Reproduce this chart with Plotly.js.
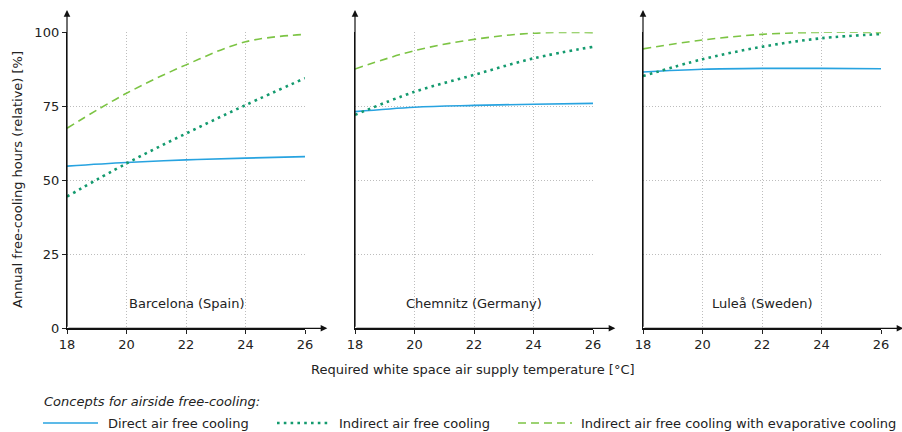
<!DOCTYPE html>
<html>
<head>
<meta charset="utf-8">
<script src="https://cdn.plot.ly/plotly-3.0.1.min.js"></script>
<style>
  html, body { margin: 0; padding: 0; background: #fff; }
  #chart { width: 902px; height: 432px; }
</style>
</head>
<body>
<div id="chart"></div>
<script>
// Supply air temperature steps [°C]
const temps = [18, 20, 22, 24, 26];
const tickTemps = [18, 20, 22, 24, 26];
const tickPct = [0, 25, 50, 75, 100];

// Annual free-cooling hours relative to the year [%]
const barcelonaDirect = [54.8, 56.0, 56.9, 57.5, 58.0];
const barcelonaIndirect = [44.5, 55.7, 65.8, 75.4, 84.5];
const barcelonaEvap = [67.6, 79.4, 89.0, 96.8, 99.3];

const chemnitzDirect = [73.2, 74.7, 75.3, 75.7, 76.0];
const chemnitzIndirect = [72.1, 79.9, 85.6, 91.2, 95.1];
const chemnitzEvap = [87.6, 93.8, 97.6, 99.7, 99.9];

const luleaDirect = [86.6, 87.5, 87.8, 87.8, 87.7];
const luleaIndirect = [85.2, 90.9, 95.1, 98.0, 99.4];
const luleaEvap = [94.4, 97.4, 99.3, 100.0, 99.9];

const sites = ['Barcelona (Spain)', 'Chemnitz (Germany)', 'Luleå (Sweden)'];
const concepts = [
  'Direct air free cooling',
  'Indirect air free cooling',
  'Indirect air free cooling with evaporative cooling'
];
const legendHeader = 'Concepts for airside free-cooling:';
const xTitle = 'Required white space air supply temperature [°C]';
const yTitle = 'Annual free-cooling hours (relative) [%]';

const series = [
  [barcelonaDirect, barcelonaIndirect, barcelonaEvap],
  [chemnitzDirect, chemnitzIndirect, chemnitzEvap],
  [luleaDirect, luleaIndirect, luleaEvap]
];

const FONT = 'DejaVu Sans, Verdana, sans-serif';
const W = 902, H = 432;
const styles = [
  { color: '#27a3e0', width: 1.6, dash: 'solid' },
  { color: '#139a6e', width: 2.6, dash: '2.6px,4.2px' },
  { color: '#7cc444', width: 1.6, dash: '8px,5px' }
];
const GRID = { gridcolor: '#bdbdbd', griddash: '1px,2px', gridwidth: 1 };

// pixel -> paper helpers
const px = v => v / W;
const py = v => (H - v) / H;

const panelLeft = [67, 355, 643];
const panelWidth = 238;
const yDomain = [py(328.3), py(32.3)];

const traces = [];
const layout = {
  width: W, height: H,
  margin: { l: 0, r: 0, t: 0, b: 0 },
  paper_bgcolor: '#fff', plot_bgcolor: '#fff',
  showlegend: false,
  font: { family: FONT, size: 13, color: '#222' },
  annotations: [],
  shapes: []
};

series.forEach((set, p) => {
  const sfx = p === 0 ? '' : String(p + 1);
  const xa = 'x' + sfx, ya = 'y' + sfx;
  set.forEach((vals, k) => {
    traces.push({
      x: temps, y: vals, xaxis: xa, yaxis: ya,
      type: 'scatter', mode: 'lines', name: concepts[k],
      line: { color: styles[k].color, width: styles[k].width, dash: styles[k].dash, shape: 'spline', smoothing: 1 },
      hoverinfo: 'skip'
    });
  });

  layout['xaxis' + sfx] = Object.assign({
    domain: [px(panelLeft[p]), px(panelLeft[p] + panelWidth)],
    anchor: ya, range: [18, 26], fixedrange: true,
    tickvals: tickTemps, ticktext: tickTemps.map(String),
    ticks: 'outside', ticklen: 4, tickcolor: '#222', tickwidth: 1,
    tickfont: { family: FONT, size: 13, color: '#222' },
    showgrid: true,
    zeroline: false, showline: true, linecolor: '#111', linewidth: 1.2
  }, GRID);
  layout['yaxis' + sfx] = Object.assign({
    domain: yDomain, anchor: xa, range: [0, 100], fixedrange: true,
    tickvals: tickPct, ticktext: tickPct.map(String),
    showticklabels: p === 0,
    ticks: p === 0 ? 'outside' : '', ticklen: 4, tickcolor: '#222', tickwidth: 1,
    tickfont: { family: FONT, size: 13, color: '#222' },
    showgrid: true,
    zeroline: false, showline: true, linecolor: '#111', linewidth: 1.2
  }, GRID);

  // axis arrows
  layout.annotations.push({
    xref: xa, yref: ya, axref: xa, ayref: ya,
    x: 26.75, y: 0, ax: 18, ay: 0, text: '',
    showarrow: true, arrowhead: 2, arrowsize: 1.1, arrowwidth: 1.2, arrowcolor: '#111', standoff: 0, startstandoff: 0
  });
  layout.annotations.push({
    xref: xa, yref: ya, axref: xa, ayref: ya,
    x: 18, y: 107.5, ax: 18, ay: 0, text: '',
    showarrow: true, arrowhead: 2, arrowsize: 1.1, arrowwidth: 1.2, arrowcolor: '#111', standoff: 0, startstandoff: 0
  });
  // site label
  layout.annotations.push({
    xref: xa, yref: ya, x: 22, y: 8.5, text: sites[p], showarrow: false,
    font: { family: FONT, size: 13, color: '#222' }
  });
});

// axis titles
layout.annotations.push({
  xref: 'paper', yref: 'paper', x: px(473), y: py(369), text: xTitle,
  showarrow: false, xanchor: 'center', yanchor: 'middle',
  font: { family: FONT, size: 13, color: '#222' }
});
layout.annotations.push({
  xref: 'paper', yref: 'paper', x: px(18), y: py(180), text: yTitle, textangle: -90,
  showarrow: false, xanchor: 'center', yanchor: 'middle',
  font: { family: FONT, size: 13, color: '#222' }
});

// legend block
layout.annotations.push({
  xref: 'paper', yref: 'paper', x: px(42), y: py(401), text: '<i>' + legendHeader + '</i>',
  showarrow: false, xanchor: 'left', yanchor: 'middle',
  font: { family: FONT, size: 13, color: '#222' }
});
const legendItems = [
  { x0: 43, x1: 98, tx: 106 },
  { x0: 277, x1: 328, tx: 337 },
  { x0: 518, x1: 572, tx: 579 }
];
legendItems.forEach((it, k) => {
  layout.shapes.push({
    type: 'line', xref: 'paper', yref: 'paper',
    x0: px(it.x0), x1: px(it.x1), y0: py(423), y1: py(423),
    line: { color: styles[k].color, width: styles[k].width, dash: styles[k].dash }
  });
  layout.annotations.push({
    xref: 'paper', yref: 'paper', x: px(it.tx), y: py(423), text: concepts[k],
    showarrow: false, xanchor: 'left', yanchor: 'middle',
    font: { family: FONT, size: 13, color: '#222' }
  });
});

Plotly.newPlot('chart', traces, layout, { staticPlot: true, displayModeBar: false });
</script>
</body>
</html>
